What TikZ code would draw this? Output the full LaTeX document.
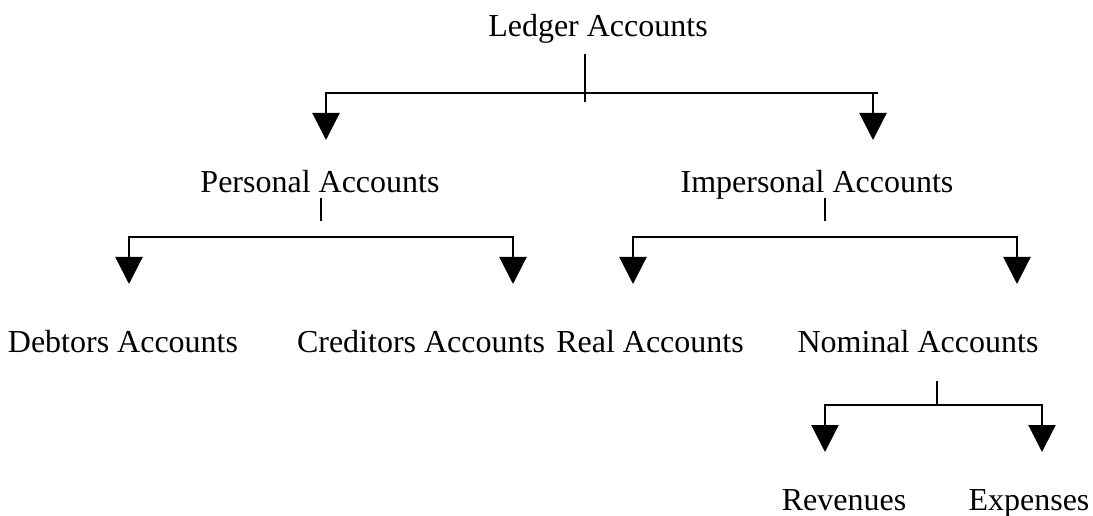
\documentclass[tikz,border=0pt]{standalone}
\usepackage{fontspec}
\setmainfont{Liberation Serif}
\usetikzlibrary{arrows.meta}
\begin{document}
\begin{tikzpicture}[x=1bp,y=-1bp,
  lbl/.style={anchor=base,inner sep=0pt,font=\fontsize{32bp}{38bp}\selectfont},
  conn/.style={line width=2.2bp,line join=miter},
  arr/.style={conn,-{Triangle[width=27bp,length=27bp]}}]
\useasboundingbox (0,0) rectangle (1093,516);
% text nodes
\node[lbl] (ledger) at (598,37) {Ledger Accounts};
\node[lbl] (personal) at (320,193) {Personal Accounts};
\node[lbl] (impersonal) at (817,193) {Impersonal Accounts};
\node[lbl] (debtors) at (123,353) {Debtors Accounts};
\node[lbl] (creditors) at (421,353) {Creditors Accounts};
\node[lbl] (real) at (650,353) {Real Accounts};
\node[lbl] (nominal) at (918,353) {Nominal Accounts};
\node[lbl] (revenues) at (844,510) {Revenues};
\node[lbl] (expenses) at (1029,510) {Expenses};
% junction coordinates
\coordinate (l1) at (585,54);   \coordinate (l2) at (585,102);
\coordinate (lh1) at (326,92.7); \coordinate (lh2) at (873,92.7); \coordinate (lh3) at (878,92.7);
\coordinate (tP) at (326,140);  \coordinate (tI) at (873,140);
\coordinate (p1) at (321,198);  \coordinate (p2) at (321,221);
\coordinate (ph1) at (129,237); \coordinate (ph2) at (513,237);
\coordinate (tD) at (129,284);  \coordinate (tC) at (513,284);
\coordinate (i1) at (825,198);  \coordinate (i2) at (825,221);
\coordinate (ih1) at (633,237); \coordinate (ih2) at (1017,237);
\coordinate (tR) at (633,284);  \coordinate (tN) at (1017,284);
\coordinate (n1) at (937,381);  \coordinate (n2) at (937,405);
\coordinate (nh1) at (825,405); \coordinate (nh2) at (1042,405);
\coordinate (tRv) at (825,452); \coordinate (tE) at (1042,452);
% Ledger
\draw[conn] (l1) -- (l2);
\draw[conn] (lh1) -- (lh3);
\draw[arr] (lh2) -| (tP);
\draw[arr] (lh1) -| (tI);
% Personal
\draw[conn] (p1) -- (p2);
\draw[arr] (ph2) -| (tD);
\draw[arr] (ph1) -| (tC);
% Impersonal
\draw[conn] (i1) -- (i2);
\draw[arr] (ih2) -| (tR);
\draw[arr] (ih1) -| (tN);
% Nominal
\draw[conn] (n1) -- (n2);
\draw[arr] (nh2) -| (tRv);
\draw[arr] (nh1) -| (tE);
\end{tikzpicture}
\end{document}
